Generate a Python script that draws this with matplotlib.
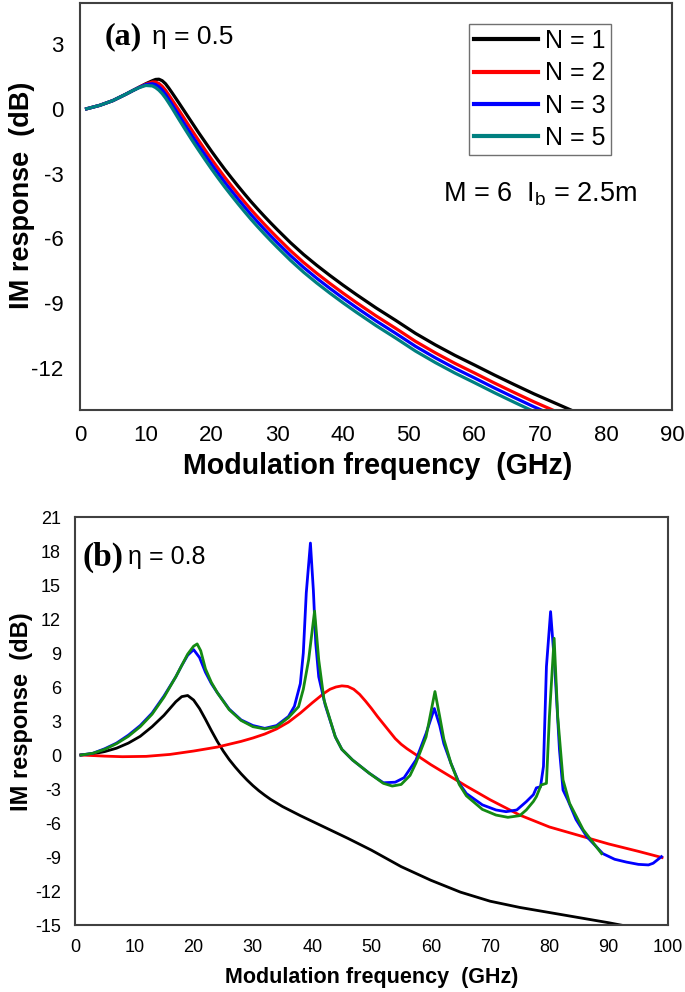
import numpy as np
import matplotlib
matplotlib.use("Agg")
import matplotlib.pyplot as plt

plt.rcParams['font.family'] = ['Liberation Sans', 'DejaVu Sans']
plt.rcParams['mathtext.default'] = 'regular'
plt.rcParams['axes.unicode_minus'] = False

# ---- panel (a): eta = 0.5, M = 6, Ib = 2.5m ----
freq_a = [1, 3, 5, 7, 8, 9, 10, 11, 11.5, 12, 12.5, 13, 13.5, 14, 15, 16, 17,
          18, 19, 20, 21, 22, 23, 24, 25, 26, 27, 28, 29, 30, 32, 34, 36, 38,
          40, 42, 45, 48, 51, 54, 57, 60, 63, 66, 69, 72, 75, 78]
n1_a = [0.0, 0.16, 0.38, 0.68, 0.84, 1.0, 1.16, 1.3, 1.36, 1.37, 1.3, 1.16,
        0.96, 0.74, 0.29, -0.17, -0.63, -1.09, -1.53, -1.97, -2.39, -2.8,
        -3.19, -3.57, -3.94, -4.3, -4.64, -4.97, -5.29, -5.6, -6.2, -6.75,
        -7.25, -7.72, -8.17, -8.6, -9.22, -9.8, -10.4, -10.93, -11.42, -11.87,
        -12.33, -12.77, -13.2, -13.6, -14.0, -14.38]
n2_a = [0.0, 0.16, 0.38, 0.68, 0.84, 1.0, 1.14, 1.24, 1.24, 1.17, 1.04, 0.86,
        0.64, 0.41, -0.05, -0.52, -0.99, -1.45, -1.9, -2.34, -2.76, -3.17,
        -3.56, -3.94, -4.31, -4.67, -5.01, -5.34, -5.66, -5.97, -6.57, -7.12,
        -7.62, -8.09, -8.54, -8.97, -9.59, -10.17, -10.77, -11.3, -11.79,
        -12.24, -12.7, -13.14, -13.57, -13.97, -14.37, -14.75]
n3_a = [0.0, 0.16, 0.38, 0.68, 0.84, 0.99, 1.12, 1.16, 1.12, 1.02, 0.87, 0.67,
        0.44, 0.2, -0.28, -0.76, -1.23, -1.69, -2.13, -2.57, -2.99, -3.4,
        -3.79, -4.17, -4.54, -4.9, -5.24, -5.57, -5.89, -6.2, -6.8, -7.35,
        -7.85, -8.32, -8.77, -9.2, -9.82, -10.4, -11.0, -11.53, -12.02,
        -12.47, -12.93, -13.37, -13.8, -14.2, -14.6, -14.98]
n5_a = [0.0, 0.16, 0.38, 0.68, 0.84, 0.98, 1.08, 1.06, 0.98, 0.86, 0.7, 0.5,
        0.27, 0.03, -0.47, -0.96, -1.44, -1.9, -2.35, -2.79, -3.21, -3.62,
        -4.01, -4.39, -4.76, -5.12, -5.46, -5.79, -6.11, -6.42, -7.02, -7.57,
        -8.07, -8.54, -8.99, -9.42, -10.04, -10.62, -11.22, -11.75, -12.24,
        -12.69, -13.15, -13.59, -14.02, -14.42, -14.82, -15.2]
labels_a = ['N = 1', 'N = 2', 'N = 3', 'N = 5']
colors_a = ['black', '#ff0000', '#0000ff', '#008080']

# ---- panel (b): eta = 0.8 ----
f_black_b = [1, 3, 5, 7, 9, 11, 13, 15, 16, 17, 18, 19, 20, 21, 22, 23, 24,
             25, 26, 27, 28, 29, 30, 31, 32, 33, 35, 38, 40, 43, 46, 50, 55,
             60, 65, 70, 75, 80, 85, 90, 93]
black_b = [0.0, 0.1, 0.3, 0.6, 1.05, 1.65, 2.5, 3.5, 4.1, 4.7, 5.15, 5.25,
           4.85, 4.1, 3.15, 2.15, 1.2, 0.35, -0.4, -1.05, -1.65, -2.2, -2.7,
           -3.15, -3.55, -3.92, -4.55, -5.35, -5.85, -6.6, -7.35, -8.4, -9.85,
           -11.05, -12.1, -12.9, -13.45, -13.9, -14.35, -14.8, -15.1]

f_red_b = [1, 5, 8, 12, 16, 20, 24, 28, 30, 32, 34, 36, 38, 40, 42, 43, 44,
           45, 46, 47, 48, 49, 50, 51, 52, 53, 54, 55, 56, 58, 60, 63, 66, 70,
           75, 80, 85, 90, 95, 99]
red_b = [0.0, -0.1, -0.15, -0.12, 0.05, 0.35, 0.7, 1.2, 1.5, 1.85, 2.3, 2.9,
         3.7, 4.6, 5.45, 5.8, 6.0, 6.1, 6.05, 5.8, 5.35, 4.75, 4.1, 3.4, 2.75,
         2.1, 1.45, 0.95, 0.55, -0.15, -0.85, -1.8, -2.75, -3.95, -5.3, -6.35,
         -7.1, -7.85, -8.5, -9.05]

f_blue_b = [1, 3, 5, 7, 9, 11, 13, 15, 17, 18, 19, 20, 21, 22, 23, 24, 26, 28,
            30, 32, 34, 36, 37, 38, 38.5, 39, 39.7, 40.2, 40.6, 41.1, 42.2,
            43.9, 45, 46.8, 49.6, 52, 54, 55.5, 57.5, 59.2, 60.6, 61.5, 62.2,
            63.4, 64.8, 66, 68.7, 71, 72.7, 74.5, 76.1, 77.3, 77.8, 78.5, 79,
            79.5, 80.2, 80.9, 81.7, 82.3, 83.1, 84.5, 86.3, 89, 91, 93, 95,
            96.7, 97.5, 98.9]
blue_b = [0.0, 0.15, 0.55, 1.05, 1.75, 2.6, 3.7, 5.2, 6.9, 7.9, 8.8, 9.3, 8.6,
          7.3, 6.3, 5.5, 4.05, 3.1, 2.6, 2.35, 2.6, 3.4, 4.3, 6.3, 9.0, 14.3,
          18.7, 14.5, 9.85, 6.9, 4.4, 1.6, 0.5, -0.44, -1.6, -2.45, -2.4,
          -2.0, -0.44, 1.9, 4.1, 2.6, 1.0, -0.74, -2.5, -3.4, -4.4, -4.85,
          -5.0, -4.85, -4.12, -3.5, -2.9, -2.8, -1.0, 7.8, 12.65, 7.8, 0.44,
          -3.09, -3.97, -5.7, -7.2, -8.7, -9.2, -9.45, -9.65, -9.7, -9.55,
          -8.97]

f_green_b = [1, 3, 5, 7, 9, 11, 13, 15, 17, 18, 19, 20, 20.6, 21.2, 22, 23,
             24, 26, 28, 30, 32, 34, 36, 37.7, 38.5, 39.4, 40.4, 41.1, 42,
             43.9, 45, 46.8, 49.6, 52, 53.5, 55, 56.5, 57.5, 59.2, 60.7, 61.5,
             62.2, 63.4, 64.8, 66, 68.7, 71, 73, 75, 76.1, 77.3, 77.8, 78.6,
             79.5, 80, 80.8, 81.4, 82.3, 83.4, 85.7, 88.8]
green_b = [0.0, 0.15, 0.5, 1.0, 1.65, 2.5, 3.6, 5.1, 6.9, 7.9, 8.9, 9.6, 9.8,
           9.2, 7.6, 6.4, 5.5, 4.0, 3.05, 2.5, 2.3, 2.5, 3.3, 4.26, 5.8, 8.4,
           12.7, 8.4, 4.85, 1.6, 0.5, -0.44, -1.6, -2.5, -2.74, -2.6, -1.8,
           -0.7, 1.6, 5.6, 3.4, 1.4, -0.74, -2.6, -3.6, -4.8, -5.3, -5.5,
           -5.35, -4.85, -4.1, -3.68, -2.65, -2.5, 3.4, 10.3, 3.4, -2.2,
           -4.26, -6.6, -8.7]

spine_col = '#404040'

fig = plt.figure(figsize=(6.85, 9.92), dpi=100)

# ---------------- panel (a) ----------------
ax1 = fig.add_axes([80 / 685, 1 - 410 / 992, 592 / 685, 407 / 992])
for ys, lab, col in zip([n1_a, n2_a, n3_a, n5_a], labels_a, colors_a):
    ax1.plot(freq_a, ys, color=col, lw=2.3, label=lab)
ax1.set_xlim(0, 90)
ax1.set_ylim(-13.95, 4.9)
ax1.set_xticks(np.arange(0, 91, 10))
ax1.set_yticks([-12, -9, -6, -3, 0, 3])
ax1.tick_params(length=0, labelsize=16, pad=11)
ax1.tick_params(axis='y', pad=12)
for sp in ax1.spines.values():
    sp.set_color(spine_col)
    sp.set_linewidth(1.5)

leg = ax1.legend(loc='upper left', bbox_to_anchor=(0.657, 0.948),
                 fontsize=18, handlelength=2.55, handletextpad=0.3,
                 labelspacing=0.33, borderpad=0.2, borderaxespad=0,
                 fancybox=False, framealpha=1)
leg.get_frame().set_edgecolor('#707070')
leg.get_frame().set_linewidth(1.0)
for line in leg.get_lines():
    line.set_linewidth(3)

ax1.text(0.042, 0.916, '(a)', transform=ax1.transAxes, fontsize=23,
         fontweight='bold', family='Liberation Serif', va='center', ha='left')
ax1.text(0.122, 0.916, 'η = 0.5', transform=ax1.transAxes, fontsize=19,
         va='center', ha='left')
ax1.text(0.613, 0.53, 'M = 6  I$_{b}$ = 2.5m', transform=ax1.transAxes,
         fontsize=19.5, va='center', ha='left')

fig.text(378 / 685, 1 - 466 / 992, 'Modulation frequency  (GHz)',
         fontsize=20.6, fontweight='bold', ha='center', va='center')
fig.text(22 / 685, 1 - 195 / 992, 'IM response  (dB)', fontsize=19.5,
         fontweight='bold', rotation=90, ha='center', va='center')

# ---------------- panel (b) ----------------
ax2 = fig.add_axes([75 / 685, 1 - 925 / 992, 593 / 685, 408 / 992])
ax2.plot(f_black_b, black_b, color='black', lw=2.0)
ax2.plot(f_red_b, red_b, color='#ff0000', lw=2.0)
ax2.plot(f_blue_b, blue_b, color='#0000ff', lw=2.0)
ax2.plot(f_green_b, green_b, color='#148a14', lw=2.0)
ax2.set_xlim(0, 100)
ax2.set_ylim(-15, 21)
ax2.set_xticks(np.arange(0, 101, 10))
ax2.set_yticks(np.arange(-15, 22, 3))
ax2.tick_params(length=0, labelsize=13, pad=10)
for sp in ax2.spines.values():
    sp.set_color(spine_col)
    sp.set_linewidth(1.5)

ax2.text(0.012, 0.902, '(b)', transform=ax2.transAxes, fontsize=24,
         fontweight='bold', family='Liberation Serif', va='center', ha='left')
ax2.text(0.09, 0.902, 'η = 0.8', transform=ax2.transAxes, fontsize=18,
         va='center', ha='left')

fig.text(372 / 685, 1 - 978 / 992, 'Modulation frequency  (GHz)',
         fontsize=15.5, fontweight='bold', ha='center', va='center')
fig.text(22 / 685, 1 - 712 / 992, 'IM response  (dB)', fontsize=17,
         fontweight='bold', rotation=90, ha='center', va='center')

fig.savefig('out.png', dpi=100)
